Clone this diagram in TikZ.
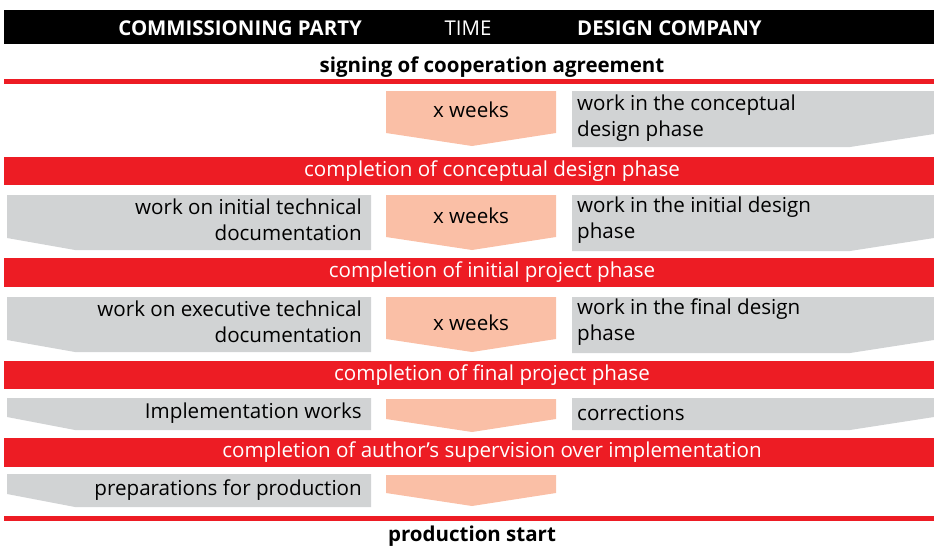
\documentclass[tikz,border=0pt]{standalone}
\usepackage{fontspec}
\setmainfont{Open Sans}
\definecolor{redbar}{RGB}{237,28,36}
\definecolor{grayfill}{RGB}{209,211,212}
\definecolor{orangefill}{RGB}{250,191,166}
\newcommand{\bodysize}{\fontsize{20.6}{25.5}\selectfont}
\newcommand{\headsize}{\fontsize{20.4}{22}\selectfont}
\newcommand{\milesize}{\fontsize{20.5}{22}\selectfont}
\begin{document}
\begin{tikzpicture}[x=1pt,y=-1pt,
  body/.style={font=\bodysize, inner sep=0pt, text=black},
  bodyl/.style={body, anchor=west, align=left},
  bodyr/.style={body, anchor=east, align=right},
  bartext/.style={font=\bodysize, inner sep=0pt, text=white},
  headtext/.style={font=\headsize\bfseries, inner sep=0pt, text=white},
  milestone/.style={font=\milesize\bfseries, inner sep=0pt, text=black},
  redfill/.style={fill=redbar},
  grayshape/.style={fill=grayfill},
  orangeshape/.style={fill=orangefill}]
\useasboundingbox (0,0) rectangle (934,546);
% header
\fill[black] (4,10) rectangle (934,44);
\node[headtext, anchor=east] (hcp) at (362,28) {COMMISSIONING PARTY};
\node[headtext, font=\headsize] (htime) at (468,28) {TIME};
\node[headtext, anchor=west] (hdc) at (577,28) {DESIGN COMPANY};
% start
\node[milestone] (sign) at (492,67) {signing of cooperation agreement};
\fill[redfill] (4,79) rectangle (934,84);
% row 1
\fill[orangeshape] (386,91) -- (556,91) -- (556,133) -- (472,146) -- (386,133) -- cycle;
\node[body] (w1) at (471,110) {x weeks};
\fill[grayshape] (572,91) -- (934,91) -- (934,134) -- (850,147) -- (572,147) -- cycle;
\node[bodyl] (d1) at (577,118) {work in the conceptual\\design phase};
% bar 1
\fill[redfill] (4,157) rectangle (934,185);
\node[bartext] (m1) at (492,171) {completion of conceptual design phase};
% row 2
\fill[grayshape] (7,195) -- (371,195) -- (371,250) -- (75,250) -- (7,238) -- cycle;
\node[bodyr] (c2) at (362,220) {work on initial technical\\documentation};
\fill[orangeshape] (386,195) -- (556,195) -- (556,237) -- (472,250) -- (386,237) -- cycle;
\node[body] (w2) at (471,216) {x weeks};
\fill[grayshape] (572,195) -- (934,195) -- (934,238) -- (850,251) -- (572,251) -- cycle;
\node[bodyl] (d2) at (577,220) {work in the initial design\\phase};
% bar 2
\fill[redfill] (4,258) rectangle (934,287);
\node[bartext] (m2) at (492,272) {completion of initial project phase};
% row 3
\fill[grayshape] (7,297) -- (371,297) -- (371,352) -- (75,352) -- (7,340) -- cycle;
\node[bodyr] (c3) at (362,322) {work on executive technical\\documentation};
\fill[orangeshape] (386,297) -- (556,297) -- (556,339) -- (472,352) -- (386,339) -- cycle;
\node[body] (w3) at (471,323) {x weeks};
\fill[grayshape] (572,297) -- (934,297) -- (934,340) -- (850,353) -- (572,353) -- cycle;
\node[bodyl] (d3) at (577,322) {work in the final design\\phase};
% bar 3
\fill[redfill] (4,361) rectangle (934,389);
\node[bartext] (m3) at (492,375) {completion of final project phase};
% row 4
\fill[grayshape] (7,398) -- (371,398) -- (371,430) -- (75,430) -- (7,417) -- cycle;
\node[bodyr] (c4) at (362,413) {Implementation works};
\fill[orangeshape] (386,399) -- (556,399) -- (556,419) -- (472,432) -- (386,419) -- cycle;
\fill[grayshape] (572,398) -- (934,398) -- (934,417) -- (850,430) -- (572,430) -- cycle;
\node[bodyl] (d4) at (577,413) {corrections};
% bar 4
\fill[redfill] (4,438) rectangle (934,467);
\node[bartext] (m4) at (492,452) {completion of author’s supervision over implementation};
% row 5
\fill[grayshape] (7,474) -- (371,474) -- (371,507) -- (75,507) -- (7,494) -- cycle;
\node[bodyr] (c5) at (362,490) {preparations for production};
\fill[orangeshape] (386,475) -- (556,475) -- (556,493) -- (472,506) -- (386,493) -- cycle;
% end
\fill[redfill] (4,516) rectangle (934,521);
\node[milestone] (prod) at (472,536) {production start};
\end{tikzpicture}
\end{document}
